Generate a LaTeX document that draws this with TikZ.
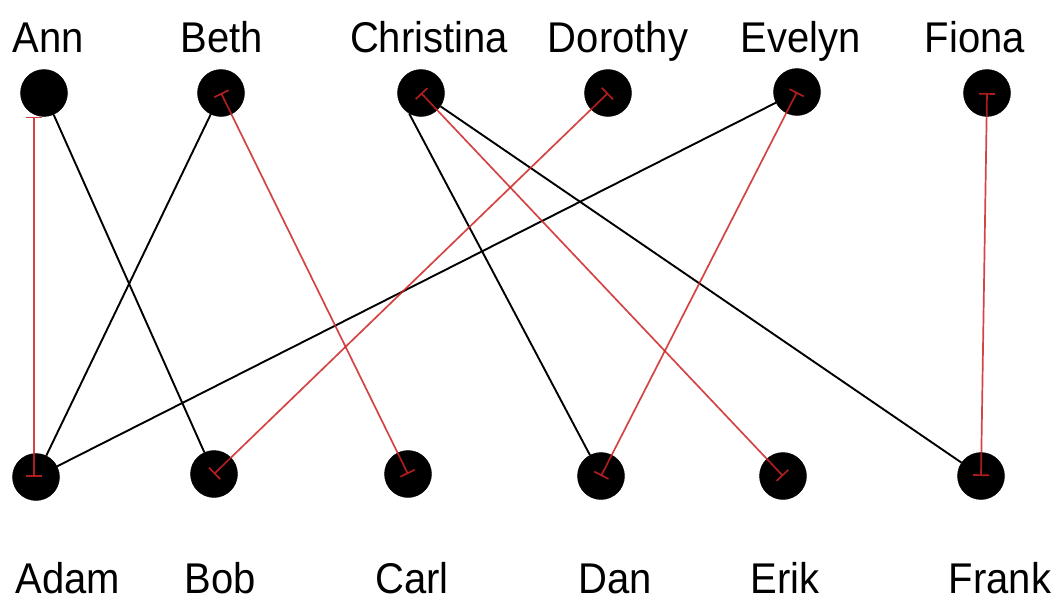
\documentclass[tikz,border=0pt]{standalone}
\usepackage{fontspec}
\setmainfont{Liberation Sans}
\usetikzlibrary{arrows.meta}
\begin{document}
\begin{tikzpicture}[x=1pt,y=-1pt,
  person/.style={circle,fill=black,draw=black,inner sep=0pt,minimum size=47pt},
  personlabel/.style={font=\fontsize{43}{43}\selectfont,inner sep=0pt,anchor=base,xscale=0.93},
  tie/.style={black,line width=1.9pt},
  redtie/.style={draw={rgb,255:red,205;green,35;blue,35},line width=1.7pt,opacity=0.85,{Bar[width=16pt,line width=1.7pt]}-{Bar[width=16pt,line width=1.7pt]}}]
\useasboundingbox (0,0) rectangle (1061,605);
% top row
\node[person] (ann) at (44,93) {};
\node[person] (beth) at (221,93) {};
\node[person] (christina) at (421,93) {};
\node[person] (dorothy) at (608,93) {};
\node[person] (evelyn) at (797,92) {};
\node[person] (fiona) at (987,93) {};
% bottom row
\node[person] (adam) at (36,477) {};
\node[person] (bob) at (214,474) {};
\node[person] (carl) at (408,474) {};
\node[person] (dan) at (601,476) {};
\node[person] (erik) at (783,476) {};
\node[person] (frank) at (981,476) {};
% labels
\node[personlabel] (lann) at (48,52) {Ann};
\node[personlabel] (lbeth) at (222,52) {Beth};
\node[personlabel] (lchristina) at (429,52) {Christina};
\node[personlabel] (ldorothy) at (618,52) {Dorothy};
\node[personlabel] (levelyn) at (801,52) {Evelyn};
\node[personlabel] (lfiona) at (975,52) {Fiona};
\node[personlabel] (ladam) at (68,593) {Adam};
\node[personlabel] (lbob) at (220,593) {Bob};
\node[personlabel] (lcarl) at (412,593) {Carl};
\node[personlabel] (ldan) at (615,593) {Dan};
\node[personlabel] (lerik) at (785,593) {Erik};
\node[personlabel] (lfrank) at (1000,593) {Frank};
% black ties
\draw[tie] (ann) -- (bob);
\draw[tie] (beth) -- (adam);
\draw[tie] (christina.240) -- (dan);
\draw[tie] (christina) -- (frank);
\draw[tie] (evelyn) -- (adam);
% red ties
\draw[redtie] ([xshift=-2pt]adam.center) -- ([xshift=-2pt]adam.center |- ann.south);
\draw[redtie] (beth.center) -- (carl.center);
\draw[redtie] (dorothy.center) -- (bob.center);
\draw[redtie] (evelyn.center) -- (dan.center);
\draw[redtie] (christina.center) -- (erik.center);
\draw[redtie] (fiona.center) -- (frank.center);
\end{tikzpicture}
\end{document}
